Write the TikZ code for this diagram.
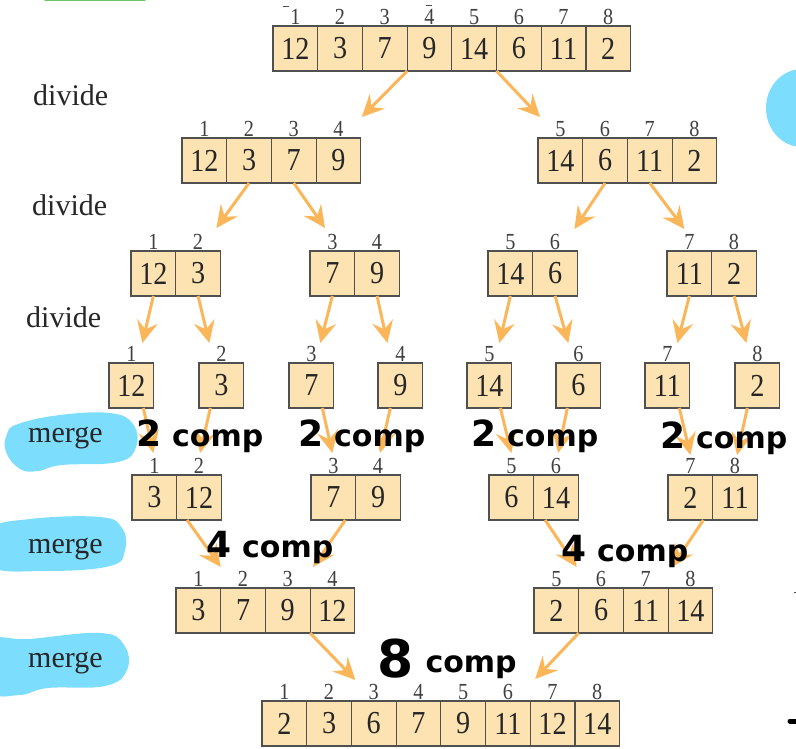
\documentclass[tikz,border=0pt]{standalone}
\usepackage{fontspec}
\setmainfont{Liberation Serif}
\newfontfamily\numfont{Liberation Serif}[FakeStretch=0.88]
\newfontfamily\handfont{DejaVu Sans}
\usetikzlibrary{arrows.meta,calc}
\definecolor{cellfill}{RGB}{253,226,178}
\definecolor{cellline}{RGB}{80,80,80}
\definecolor{arrowc}{RGB}{252,182,90}
\definecolor{blobc}{RGB}{124,221,253}
\definecolor{greenc}{RGB}{110,195,110}
\newcommand{\cellrow}[4]{%
  \foreach \ii/\vv [count=\kk] in {#4}{%
    \node[cell] (#1\kk) at ({#2+(\kk-0.5)*44.7},{#3+22.5}) {\vv};
    \node[idx] (#1i\kk) at ({#2+(\kk-0.5)*44.7},{#3-2}) {\ii};
  }}
\begin{document}
\begin{tikzpicture}[x=1pt,y=-1pt,
  cell/.style={draw=cellline, fill=cellfill, line width=1.2pt, minimum width=44.7pt, minimum height=45pt, inner sep=0pt, outer sep=0pt, font=\numfont\fontsize{32}{32}\selectfont, text=black!85},
  idx/.style={font=\numfont\fontsize{23}{23}\selectfont, text=black!75, inner sep=0pt, anchor=base},
  arr/.style={draw=arrowc, line width=3pt, -{Stealth[length=22pt,width=21pt,inset=8pt]}},
  side/.style={font=\fontsize{30}{30}\selectfont, text=black!85, inner sep=0pt, anchor=base west},
  hand/.style={font=\handfont\bfseries\fontsize{30}{30}\selectfont, text=black, inner sep=0pt, anchor=base}]
\useasboundingbox (0,0) rectangle (796,748);
% blobs
\fill[blobc] plot[smooth cycle, tension=0.7] coordinates {(18,424) (60,415) (110,413) (133,424) (136,447) (118,462) (62,465) (38,471) (20,469) (6,452) (7,434)};
\fill[blobc] plot[smooth cycle, tension=0.7] coordinates {(-10,530) (30,519) (100,517) (122,528) (125,550) (110,566) (45,571) (-10,566)};
\fill[blobc] plot[smooth cycle, tension=0.7] coordinates {(-10,642) (30,639) (100,633) (124,645) (127,670) (105,686) (48,688) (20,695) (-10,690)};
\fill[blobc] (802,108) ellipse [x radius=36pt, y radius=39pt];
\draw[greenc, line width=2pt, line cap=round] (45,0) -- (145,0);
% side labels
\node[side] (dv1) at (33,105) {divide};
\node[side] (dv2) at (32,215) {divide};
\node[side] (dv3) at (26,327) {divide};
\node[side] (mg1) at (28,442) {merge};
\node[side] (mg2) at (28,553) {merge};
\node[side] (mg3) at (28,667) {merge};
% rows
\cellrow{top}{273}{26}{1/12,2/3,3/7,4/9,5/14,6/6,7/11,8/2}
\cellrow{ba}{182}{138}{1/12,2/3,3/7,4/9}
\cellrow{bb}{538}{138}{5/14,6/6,7/11,8/2}
\cellrow{ca}{131}{251}{1/12,2/3}
\cellrow{cb}{310}{251}{3/7,4/9}
\cellrow{cc}{488}{251}{5/14,6/6}
\cellrow{cd}{667}{251}{7/11,8/2}
\cellrow{sa}{109}{363}{1/12}
\cellrow{sb}{199}{363}{2/3}
\cellrow{sc}{289}{363}{3/7}
\cellrow{sd}{378}{363}{4/9}
\cellrow{se}{467}{363}{5/14}
\cellrow{sf}{556}{363}{6/6}
\cellrow{sg}{645}{363}{7/11}
\cellrow{sh}{735}{363}{8/2}
\cellrow{ma}{132}{475}{1/3,2/12}
\cellrow{mb}{311}{475}{3/7,4/9}
\cellrow{mc}{489}{475}{5/6,6/14}
\cellrow{md}{668}{475}{7/2,8/11}
\cellrow{na}{176}{588}{1/3,2/7,3/9,4/12}
\cellrow{nb}{534}{588}{5/2,6/6,7/11,8/14}
\cellrow{fin}{262}{701}{1/2,2/3,3/6,4/7,5/9,6/11,7/12,8/14}
% arrows divide
\draw[arr] (top4.south west) -- ($(ba4.north east)+(1,-21)$);
\draw[arr] (top6.south west) -- ($(bb1.north west)+(2,-21)$);
\draw[arr] (ba2.south) -- ($(ca2.north east)+(-4,-23)$);
\draw[arr] (ba3.south) -- ($(cb1.north west)+(15,-23)$);
\draw[arr] (bb2.south) -- ($(cc2.north east)+(-3,-22)$);
\draw[arr] (bb3.south) -- ($(cd1.north)+(-5,-22)$);
\draw[arr] (ca1.south) -- ($(sa1.north)+(11,-20)$);
\draw[arr] (ca2.south) -- ($(sb1.north)+(-12,-20)$);
\draw[arr] (cb1.south) -- ($(sc1.north)+(9,-20)$);
\draw[arr] (cb2.south) -- ($(sd1.north)+(-13,-20)$);
\draw[arr] (cc1.south) -- ($(se1.north)+(10,-20)$);
\draw[arr] (cc2.south) -- ($(sf1.north)+(-10,-20)$);
\draw[arr] (cd1.south) -- ($(sg1.north)+(10,-20)$);
\draw[arr] (cd2.south) -- ($(sh1.north)+(-11,-20)$);
% arrows merge
\draw[arr] ($(sa1.south)+(12,0)$) -- ($(ma1.north)+(-1,-22)$);
\draw[arr] ($(sb1.south)+(-11,0)$) -- ($(ma2.north)+(1,-22)$);
\draw[arr] ($(sc1.south)+(11,0)$) -- ($(mb1.north)+(-1,-22)$);
\draw[arr] ($(sd1.south)+(-10,0)$) -- ($(mb2.north)+(2,-22)$);
\draw[arr] ($(se1.south)+(11,0)$) -- ($(mc1.north)+(0,-22)$);
\draw[arr] ($(sf1.south)+(-11,0)$) -- ($(mc2.north)+(2,-22)$);
\draw[arr] ($(sg1.south)+(12,0)$) -- ($(md1.north)+(0,-20)$);
\draw[arr] ($(sh1.south)+(-10,0)$) -- ($(md2.north)+(2,-20)$);
\draw[arr] ($(ma2.south)+(-12,0)$) -- ($(na1.north east)+(0,-21)$);
\draw[arr] ($(mb1.south)+(12,0)$) -- ($(na4.north west)+(3,-21)$);
\draw[arr] ($(mc2.south)+(-11,0)$) -- ($(nb1.north east)+(-2,-21)$);
\draw[arr] ($(md1.south)+(13,0)$) -- ($(nb4.north west)+(4,-21)$);
\draw[arr] (na3.south east) -- ($(fin3.north west)+(4,-21)$);
\draw[arr] (nb2.south west) -- ($(fin7.north west)+(5,-22)$);
% handwritten notes
\node[hand] (h1) at (200,446) {{\fontsize{36}{36}\selectfont 2} comp};
\node[hand] (h2) at (362,446) {{\fontsize{36}{36}\selectfont 2} comp};
\node[hand] (h3) at (535,446) {{\fontsize{36}{36}\selectfont 2} comp};
\node[hand] (h4) at (724,448) {{\fontsize{36}{36}\selectfont 2} comp};
\node[hand] (h5) at (270,557) {{\fontsize{36}{36}\selectfont 4} comp};
\node[hand] (h6) at (625,561) {{\fontsize{36}{36}\selectfont 4} comp};
\node[hand] (h7) at (447,677) {{\fontsize{52}{52}\selectfont 8}\hspace{12pt}\raisebox{5pt}{comp}};
% small marks
\draw[black!70, line width=1pt] (283,6) -- (289,6);
\draw[black!70, line width=1pt] (426,5) -- (432,5);
\draw[black!70, line width=1pt] (794,592) -- (796,592);
\draw[black, line width=5pt, line cap=round] (790,721) -- (798,721);
\end{tikzpicture}
\end{document}
